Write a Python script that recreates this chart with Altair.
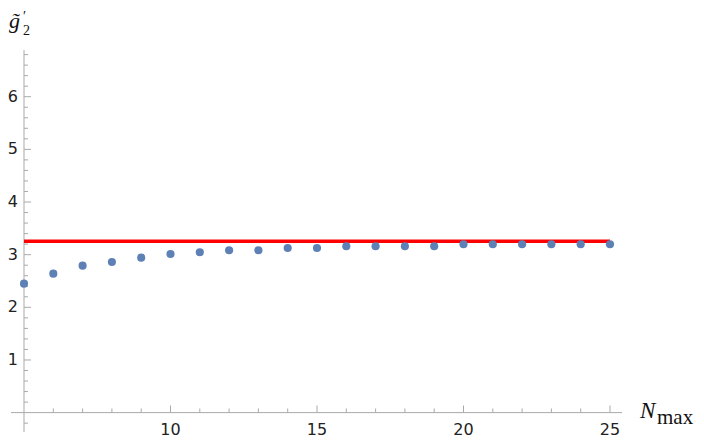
import altair as alt
import pandas as pd

# ---- data ----
N_max = [5, 6, 7, 8, 9, 10, 11, 12, 13, 14, 15, 16, 17, 18, 19, 20, 21, 22, 23, 24, 25]
g2_prime = [2.449, 2.639, 2.791, 2.861, 2.943, 3.013, 3.046, 3.084, 3.084, 3.127, 3.127,
            3.160, 3.160, 3.160, 3.160, 3.198, 3.198, 3.198, 3.198, 3.198, 3.198]
limit_value = 3.255
limit_start = 5
limit_end = 25

x_labels = [10, 15, 20, 25]
y_labels = [1, 2, 3, 4, 5, 6]
x_minor = [6, 7, 8, 9, 11, 12, 13, 14, 16, 17, 18, 19, 21, 22, 23, 24]
y_minor = [round(i * 0.2, 1) for i in range(-1, 35) if i % 5 != 0]

# ---- layout ----
X_MIN, X_MAX = 4.556, 25.41
Y_MIN, Y_MAX = -0.368, 6.887
W, H = 611, 382
X_ORIGIN, Y_ORIGIN = 5, 0

AXIS_COLOR = "#a9a9a9"
LABEL_COLOR = "#222222"
TICK_FONT = "DejaVu Sans"

xs = alt.Scale(domain=[X_MIN, X_MAX], nice=False, zero=False)
ys = alt.Scale(domain=[Y_MIN, Y_MAX], nice=False, zero=False)

pts = pd.DataFrame({"N": N_max, "g": g2_prime})
lim = pd.DataFrame({"x": [limit_start], "x2": [limit_end], "y": [limit_value]})

# axis lines
x_axis_df = pd.DataFrame({"x": [X_MIN], "x2": [X_MAX], "y": [Y_ORIGIN]})
y_axis_df = pd.DataFrame({"x": [X_ORIGIN], "y": [Y_MIN], "y2": [Y_MAX]})

x_axis_line = alt.Chart(x_axis_df).mark_rule(color=AXIS_COLOR, strokeWidth=1).encode(
    x=alt.X("x:Q", scale=xs, axis=None), x2="x2:Q",
    y=alt.Y("y:Q", scale=ys, axis=None))
y_axis_line = alt.Chart(y_axis_df).mark_rule(color=AXIS_COLOR, strokeWidth=1).encode(
    x=alt.X("x:Q", scale=xs, axis=None),
    y=alt.Y("y:Q", scale=ys, axis=None), y2="y2:Q")

points = alt.Chart(pts).mark_circle(size=66, color="#5E81B5", opacity=1).encode(
    x=alt.X("N:Q", scale=xs, axis=None),
    y=alt.Y("g:Q", scale=ys, axis=None),
)

limit_line = alt.Chart(lim).mark_rule(color="#FF0000", strokeWidth=3.5).encode(
    x=alt.X("x:Q", scale=xs, axis=None),
    x2="x2:Q",
    y=alt.Y("y:Q", scale=ys, axis=None),
)


def yticks(vals, length):
    df = pd.DataFrame({"v": vals, "x0": [X_ORIGIN] * len(vals)})
    return alt.Chart(df).mark_tick(orient="horizontal", size=length, thickness=1,
                                   xOffset=length / 2, color=AXIS_COLOR, opacity=1).encode(
        x=alt.X("x0:Q", scale=xs, axis=None),
        y=alt.Y("v:Q", scale=ys, axis=None),
    )


def xticks(vals, length):
    df = pd.DataFrame({"v": vals, "y0": [Y_ORIGIN] * len(vals)})
    return alt.Chart(df).mark_tick(orient="vertical", size=length, thickness=1,
                                   yOffset=-length / 2, color=AXIS_COLOR, opacity=1).encode(
        x=alt.X("v:Q", scale=xs, axis=None),
        y=alt.Y("y0:Q", scale=ys, axis=None),
    )


x_lab_df = pd.DataFrame({"v": x_labels, "y0": [Y_ORIGIN] * len(x_labels),
                         "t": [str(v) for v in x_labels]})
x_tick_labels = alt.Chart(x_lab_df).mark_text(
    font=TICK_FONT, fontSize=16, color=LABEL_COLOR, align="center",
    baseline="top", dy=9).encode(
    x=alt.X("v:Q", scale=xs, axis=None),
    y=alt.Y("y0:Q", scale=ys, axis=None),
    text="t:N")

y_lab_df = pd.DataFrame({"v": y_labels, "x0": [X_ORIGIN] * len(y_labels),
                         "t": [str(v) for v in y_labels]})
y_tick_labels = alt.Chart(y_lab_df).mark_text(
    font=TICK_FONT, fontSize=16, color=LABEL_COLOR, align="right",
    baseline="middle", dx=-6).encode(
    x=alt.X("x0:Q", scale=xs, axis=None),
    y=alt.Y("v:Q", scale=ys, axis=None),
    text="t:N")


def label(txt, px, py, size, style="normal", line_height=None):
    df = pd.DataFrame({"t": [txt]})
    kw = dict(font="Liberation Serif", fontSize=size, fontStyle=style,
              align="left", baseline="alphabetic", color="#111111")
    if line_height is not None:
        kw["lineBreak"] = "\n"
        kw["lineHeight"] = line_height
    return alt.Chart(df).mark_text(**kw).encode(
        x=alt.value(px), y=alt.value(py), text="t:N")


titles = [
    label("N", 629, 368, 23, style="italic"),
    label("max", 646, 374, 21),
    label("g\u0303", -2, -22, 22, style="italic"),
    label("\u2032\n2", 12, -29, 14, line_height=14),
]

chart = alt.layer(
    x_axis_line, y_axis_line,
    yticks(y_minor, 4), yticks(y_labels, 7),
    xticks(x_minor, 4), xticks(x_labels, 7),
    limit_line,
    points,
    x_tick_labels, y_tick_labels,
    *titles,
).properties(
    width=W, height=H,
    autosize=alt.AutoSizeParams(type="none"),
    padding={"left": 3, "top": 42, "right": 74, "bottom": 6},
    background="white",
).configure_view(stroke=None)

chart.save("out.html", embed_options={"renderer": "svg", "actions": False})
